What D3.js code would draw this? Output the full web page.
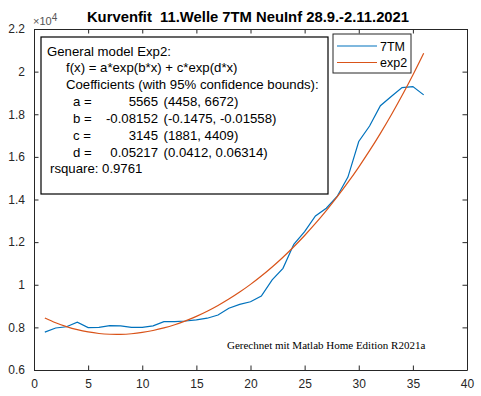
<!DOCTYPE html>
<html><head><meta charset="utf-8">
<script src="https://cdn.jsdelivr.net/npm/d3@7"></script>
<style>body{margin:0;background:#fff}svg{display:block}text{font-family:"Liberation Sans",Arial,sans-serif;white-space:pre}</style>
</head><body>
<script>
const days = d3.range(1, 37);
const cases7TM = [7780,7970,8030,8240,7990,8000,8080,8070,8000,8000,8070,8270,8270,8300,8350,8430,8580,8900,9080,9200,9470,10225,10770,11900,12490,13230,13590,14140,15050,16720,17450,18400,18830,19250,19300,18910];
const fitExp2 = [8443,8219,8036,7892,7785,7713,7677,7673,7702,7762,7853,7974,8125,8306,8516,8756,9026,9326,9656,10017,10410,10835,11293,11785,12312,12876,13478,14118,14799,15523,16290,17104,17966,18878,19843,20863];
const xTicks = [0,5,10,15,20,25,30,35,40];
const yTicks = [6000,8000,10000,12000,14000,16000,18000,20000,22000];
const seriesNames = ["7TM","exp2"];
const titleText = "Kurvenfit  11.Welle 7TM NeuInf 28.9.-2.11.2021";
const fitLines = ["General model Exp2:","f(x) = a*exp(b*x) + c*exp(d*x)","Coefficients (with 95% confidence bounds):"];
const coefNames = ["a =","b =","c =","d ="];
const coefValues = ["5565","-0.08152","3145","0.05217"];
const coefBounds = ["(4458, 6672)","(-0.1475, -0.01558)","(1881, 4409)","(0.0412, 0.06314)"];
const rsquareText = "rsquare: 0.9761";
const noteText = "Gerechnet mit Matlab Home Edition R2021a";

const W = 481, H = 396;
const L = 34, R = 467, T = 29, B = 370;
const axisCol = "#262626";
const blue = "#0072BD", orange = "#D95319";

const svg = d3.select("body").append("svg").attr("width", W).attr("height", H);
const x = d3.scaleLinear().domain([0,40]).range([L,R]);
const y = d3.scaleLinear().domain([6000,22000]).range([B,T]);

// lines
const line = d3.line().x((d,i)=>x(days[i])).y(d=>y(d));
svg.append("path").datum(cases7TM).attr("d", line).attr("fill","none").attr("stroke",blue).attr("stroke-width",1.2);
svg.append("path").datum(fitExp2).attr("d", line.curve(d3.curveNatural)).attr("fill","none").attr("stroke",orange).attr("stroke-width",1.2);

// axes
const tl = 4.5;
const fmt = v => d3.format("")(+(v/10000).toFixed(1));
svg.append("g").attr("transform",`translate(0,${B})`)
  .call(d3.axisBottom(x).tickValues(xTicks).tickSizeInner(-tl).tickSizeOuter(0).tickPadding(9).tickFormat(d3.format("d")));
svg.append("g").attr("transform",`translate(0,${T})`)
  .call(d3.axisTop(x).tickValues(xTicks).tickSizeInner(-tl).tickSizeOuter(0).tickFormat(""));
svg.append("g").attr("transform",`translate(${L},0)`)
  .call(d3.axisLeft(y).tickValues(yTicks).tickSizeInner(-tl).tickSizeOuter(0).tickPadding(9).tickFormat(fmt));
svg.append("g").attr("transform",`translate(${R},0)`)
  .call(d3.axisRight(y).tickValues(yTicks).tickSizeInner(-tl).tickSizeOuter(0).tickFormat(""));
svg.selectAll(".domain").attr("stroke",axisCol).attr("stroke-width",1);
svg.selectAll(".tick line").attr("stroke",axisCol).attr("stroke-width",1);
svg.selectAll(".tick text").attr("fill",axisCol).style("font-size","12px").style("font-family",'"Liberation Sans",Arial,sans-serif');

// exponent label
const ex = svg.append("text").attr("x",33).attr("y",25).attr("fill","#555").style("font-size","11px");
ex.append("tspan").text("×10");
ex.append("tspan").attr("dy",-4).style("font-size","10px").text("4");

// title
svg.append("text").attr("x",248).attr("y",22).attr("text-anchor","middle")
  .style("font-size","14.8px").style("font-weight","bold").attr("fill","#000").text(titleText);

// fit info box
svg.append("rect").attr("x",41).attr("y",37).attr("width",287).attr("height",157)
  .attr("fill","#fff").attr("stroke","#000").attr("stroke-width",1.2);
const fs = "13.2px";
const lh = 16.8, y0 = 55.5;
const tx = [47,66,66];
fitLines.forEach((t,i)=>svg.append("text").attr("x",tx[i]).attr("y",y0+i*lh).style("font-size",fs).text(t));
coefNames.forEach((n,i)=>{
  const yy = y0+(3+i)*lh + 0.3*i;
  svg.append("text").attr("x",73).attr("y",yy).style("font-size",fs).text(n);
  svg.append("text").attr("x",158).attr("y",yy).attr("text-anchor","end").style("font-size",fs).text(coefValues[i]);
  svg.append("text").attr("x",163.5).attr("y",yy).style("font-size",fs).text(coefBounds[i]);
});
svg.append("text").attr("x",50).attr("y",y0+7*lh).style("font-size",fs).text(rsquareText);

// legend
svg.append("rect").attr("x",333).attr("y",34).attr("width",78).attr("height",39)
  .attr("fill","#fff").attr("stroke",axisCol).attr("stroke-width",1);
[blue,orange].forEach((c,i)=>{
  const ly = 46 + i*16.5;
  svg.append("line").attr("x1",337).attr("x2",377).attr("y1",ly).attr("y2",ly).attr("stroke",c).attr("stroke-width",1.2);
  svg.append("text").attr("x",380).attr("y",ly+4.5).style("font-size","12.5px").attr("fill","#000").text(seriesNames[i]);
});

// note
svg.append("text").attr("x",227).attr("y",349).style("font-family",'"Liberation Serif","Times New Roman",serif')
  .style("font-size","11px").attr("fill","#000").text(noteText);
</script>
</body></html>
